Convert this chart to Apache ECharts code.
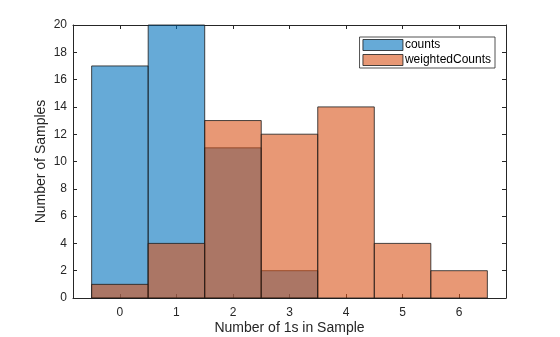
<!DOCTYPE html>
<html><head><meta charset="utf-8">
<script src="https://cdn.jsdelivr.net/npm/echarts@6/dist/echarts.min.js"></script>
<style>html,body{margin:0;padding:0;background:#fff}#c{width:560px;height:337px}</style>
</head><body><div id="c"></div>
<script>
const categories = [0, 1, 2, 3, 4, 5, 6];
const counts = [17, 20, 11, 2, 0, 0, 0];
const weightedCounts = [1, 4, 13, 12, 14, 4, 2];
const xTicks = [0, 1, 2, 3, 4, 5, 6];
const yTicks = [0, 2, 4, 6, 8, 10, 12, 14, 16, 18, 20];

const FONT = '"Liberation Sans", Arial, Helvetica, sans-serif';
const blueFill = 'rgba(0,114,189,0.6)';
const orangeFill = 'rgba(217,83,25,0.6)';

function makeRender(fill) {
  return function (params, api) {
    const x = api.value(0), y = api.value(1);
    if (!y) return null;
    const p0 = api.coord([x - 0.5, 0]);
    const p1 = api.coord([x + 0.5, y]);
    return {
      type: 'rect',
      shape: { x: p0[0], y: p1[1], width: p1[0] - p0[0], height: p0[1] - p1[1] },
      style: { fill: fill, stroke: '#1a1a1a', lineWidth: 0.8 }
    };
  };
}

const chart = echarts.init(document.getElementById('c'), null, { renderer: 'canvas' });
const axisLine = { show: true, onZero: false, lineStyle: { color: '#262626', width: 1 } };
chart.setOption({
  animation: false,
  textStyle: { fontFamily: FONT },
  grid: { left: 73, top: 25, right: 54, bottom: 39, containLabel: false, outerBoundsMode: 'none' },
  legend: {
    right: 65, top: 37,
    orient: 'vertical',
    itemWidth: 40, itemHeight: 11, itemGap: 3,
    padding: [2, 4, 2, 3],
    borderColor: '#262626', borderWidth: 0.8,
    backgroundColor: '#fff',
    textStyle: { fontFamily: FONT, fontSize: 12, color: '#000', padding: [0, 0, 0, -3] },
    data: [
      { name: 'counts', icon: 'rect', itemStyle: { color: blueFill, borderColor: '#1a1a1a', borderWidth: 0.8 } },
      { name: 'weightedCounts', icon: 'rect', itemStyle: { color: orangeFill, borderColor: '#1a1a1a', borderWidth: 0.8 } }
    ]
  },
  xAxis: [{
    type: 'value', min: -0.83, max: 6.83, position: 'bottom',
    name: 'Number of 1s in Sample', nameLocation: 'middle', nameGap: 23, nameMoveOverlap: false,
    nameTextStyle: { fontFamily: FONT, fontSize: 14, color: '#262626' },
    axisLine: axisLine,
    splitLine: { show: false },
    axisTick: { show: true, inside: true, length: 4, customValues: xTicks, lineStyle: { color: '#262626' } },
    axisLabel: { customValues: xTicks, fontFamily: FONT, fontSize: 12, color: '#262626', margin: 9 }
  }, {
    type: 'value', min: -0.83, max: 6.83, position: 'top',
    axisLine: axisLine, splitLine: { show: false },
    axisTick: { show: true, inside: true, length: 4, customValues: xTicks, lineStyle: { color: '#262626' } },
    axisLabel: { show: false }
  }],
  yAxis: [{
    type: 'value', min: 0, max: 20, interval: 2, position: 'left',
    name: 'Number of Samples', nameLocation: 'middle', nameGap: 25, nameMoveOverlap: false,
    nameTextStyle: { fontFamily: FONT, fontSize: 14, color: '#262626' },
    axisLine: axisLine, splitLine: { show: false },
    axisTick: { show: true, inside: true, length: 4, lineStyle: { color: '#262626' } },
    axisLabel: { fontFamily: FONT, fontSize: 12, color: '#262626', margin: 6 }
  }, {
    type: 'value', min: 0, max: 20, interval: 2, position: 'right',
    axisLine: axisLine, splitLine: { show: false },
    axisTick: { show: true, inside: true, length: 4, lineStyle: { color: '#262626' } },
    axisLabel: { show: false }
  }],
  series: [{
    name: 'counts', type: 'custom', xAxisIndex: 0, yAxisIndex: 0,
    itemStyle: { color: blueFill },
    renderItem: makeRender(blueFill),
    encode: { x: 0, y: 1 },
    data: categories.map((c, i) => [c, counts[i]])
  }, {
    name: 'weightedCounts', type: 'custom', xAxisIndex: 0, yAxisIndex: 0,
    itemStyle: { color: orangeFill },
    renderItem: makeRender(orangeFill),
    encode: { x: 0, y: 1 },
    data: categories.map((c, i) => [c, weightedCounts[i]])
  }]
});
</script></body></html>
